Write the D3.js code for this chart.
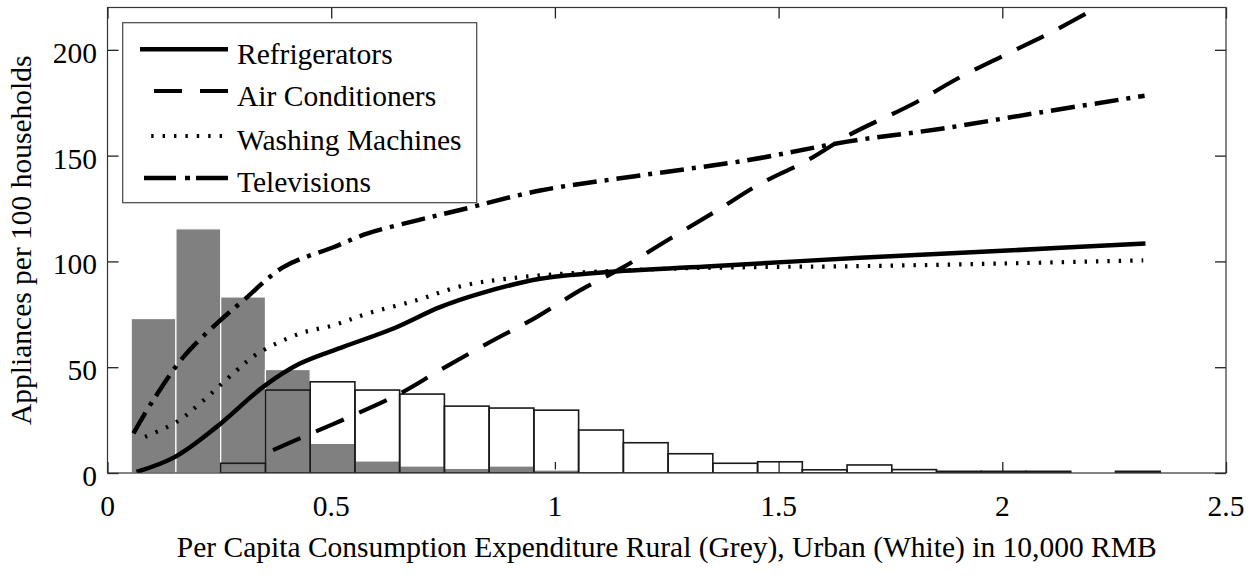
<!DOCTYPE html>
<html>
<head>
<meta charset="utf-8">
<script src="https://cdn.jsdelivr.net/npm/d3@7"></script>
<style>
  html, body { margin: 0; padding: 0; background: #fff; }
  svg { display: block; }
  text { font-family: "Liberation Serif", "Times New Roman", serif; fill: #000; }
</style>
</head>
<body>
<svg id="chart" width="1257" height="576"></svg>
<script>
// ---------------- data ----------------
const binCenters = [0.103, 0.203, 0.303, 0.403, 0.503, 0.603, 0.703, 0.803, 0.903, 1.003,
                    1.103, 1.203, 1.303, 1.403, 1.503, 1.603, 1.703, 1.803, 1.903, 2.003,
                    2.103, 2.203, 2.303];
const binWidth = 0.1;
const ruralCounts = [73, 115.4, 83.2, 48.9, 14, 5.7, 3.3, 2.2, 3.3, 1.4,
                     0, 0, 0, 0, 0, 0, 0, 0, 0, 0, 0, 0, 0];
const urbanCounts = [0, 0, 4.6, 39.2, 43.1, 39.2, 37.3, 31.6, 30.7, 29.7,
                     20.3, 14.3, 9.1, 4.6, 5.3, 1.5, 3.8, 1.6, 0.8, 0.8, 0.8, 0, 0.8];

const refrigX = [0.065, 0.15, 0.244, 0.348, 0.43, 0.527, 0.639, 0.743, 0.832, 0.967, 1.116, 1.339, 1.682, 2.0, 2.32];
const refrigY = [0.5, 7.5, 21.8, 40.7, 51.7, 59.6, 68.3, 78.4, 84.8, 91.8, 95, 97.6, 101.7, 105, 108.5];

const acX = [0.37, 0.43, 0.542, 0.654, 0.743, 0.855, 0.959, 1.056, 1.153, 1.257, 1.362, 1.458, 1.563, 1.66, 1.8, 1.905, 2.01, 2.107, 2.22];
const acY = [10.8, 16.4, 26.6, 37.6, 48.6, 61.9, 73.7, 86.3, 97.3, 110.7, 124, 136.6, 147.6, 160, 174.4, 187, 198, 208, 221];

const washX = [0.084, 0.155, 0.207, 0.285, 0.333, 0.43, 0.505, 0.58, 0.69, 0.788, 0.892, 1.041, 1.265, 1.488, 1.66, 2.0, 2.315];
const washY = [17.1, 24.2, 32.9, 47.8, 56.1, 65.9, 69.8, 75.3, 81.6, 88.2, 91.8, 94.5, 96.6, 97.4, 97.7, 99, 100.5];

const tvX = [0.058, 0.102, 0.17, 0.244, 0.304, 0.393, 0.505, 0.58, 0.69, 0.788, 0.967, 1.19, 1.436, 1.65, 1.86, 2.084, 2.318];
const tvY = [18.7, 34.4, 54.9, 70.6, 81.6, 97.3, 106.7, 113.1, 119.3, 124.3, 133.5, 140.6, 148, 156.5, 162.6, 170.4, 178.3];

const seriesNames = ["Refrigerators", "Air Conditioners", "Washing Machines", "Televisions"];
const xTicks = [0, 0.5, 1, 1.5, 2, 2.5];
const xTickLabels = ["0", "0.5", "1", "1.5", "2", "2.5"];
const yTicks = [0, 50, 100, 150, 200];
const yTickLabels = ["0", "50", "100", "150", "200"];
const xTitle = "Per Capita Consumption Expenditure Rural (Grey), Urban (White) in 10,000 RMB";
const yTitle = "Appliances per 100 households";

// ---------------- layout ----------------
const L = 107.5, R = 1226, T = 7.5, B = 473;
const FS = 29.5;
const svg = d3.select("#chart");
const x = d3.scaleLinear().domain([0, 2.5]).range([L, R]);
const y = d3.scaleLinear().domain([0, 220]).range([B, T]);

svg.append("defs").append("clipPath").attr("id", "plotclip")
  .append("rect").attr("x", L).attr("y", T).attr("width", R - L).attr("height", B - T);

// ticks (bottom layer, inward)
const tickLen = 11;
const axB = svg.append("g").attr("transform", `translate(0,${B})`)
  .call(d3.axisTop(x).tickValues(xTicks).tickSize(tickLen).tickFormat(""));
const axT = svg.append("g").attr("transform", `translate(0,${T})`)
  .call(d3.axisBottom(x).tickValues(xTicks).tickSize(tickLen).tickFormat(""));
const axL = svg.append("g").attr("transform", `translate(${L},0)`)
  .call(d3.axisRight(y).tickValues(yTicks).tickSize(tickLen).tickFormat(""));
const axR = svg.append("g").attr("transform", `translate(${R},0)`)
  .call(d3.axisLeft(y).tickValues(yTicks).tickSize(tickLen).tickFormat(""));
[axB, axT, axL, axR].forEach(g => {
  g.select(".domain").remove();
  g.selectAll("line").attr("stroke", "#222").attr("stroke-width", 1.3);
});

// tick labels
svg.append("g").selectAll("text").data(xTicks).join("text")
  .attr("x", d => x(d)).attr("y", 516)
  .attr("text-anchor", "middle").attr("font-size", FS)
  .text((d, i) => xTickLabels[i]);
svg.append("g").selectAll("text").data(yTicks).join("text")
  .attr("x", 97).attr("y", d => y(d) + 13)
  .attr("text-anchor", "end").attr("font-size", FS)
  .text((d, i) => yTickLabels[i]);

// titles
svg.append("text").attr("x", (L + R) / 2).attr("y", 557)
  .attr("text-anchor", "middle").attr("font-size", FS).text(xTitle);
svg.append("text").attr("transform", `translate(31,${(T + B) / 2}) rotate(-90)`)
  .attr("text-anchor", "middle").attr("font-size", FS).text(yTitle);

// bars
const bins = binCenters.map((c, i) => ({ c, rural: ruralCounts[i], urban: urbanCounts[i] }));
const plot = svg.append("g").attr("clip-path", "url(#plotclip)");
plot.append("g").selectAll("rect").data(bins.filter(d => d.rural > 0)).join("rect")
  .attr("x", d => x(d.c - binWidth / 2)).attr("width", d => x(d.c + binWidth / 2) - x(d.c - binWidth / 2))
  .attr("y", d => y(d.rural)).attr("height", d => B - y(d.rural))
  .attr("fill", "#808080").attr("stroke", "#fff").attr("stroke-width", 1.2);
plot.append("g").selectAll("rect").data(bins.filter(d => d.urban > 0)).join("rect")
  .attr("x", d => x(d.c - binWidth / 2)).attr("width", d => x(d.c + binWidth / 2) - x(d.c - binWidth / 2))
  .attr("y", d => y(d.urban)).attr("height", d => B - y(d.urban))
  .attr("fill", "none").attr("stroke", "#1a1a1a").attr("stroke-width", 1.6);

// lines
const styles = [
  { xs: refrigX, ys: refrigY, dash: null, w: 4.5 },
  { xs: acX, ys: acY, dash: "30,17", w: 4.2 },
  { xs: washX, ys: washY, dash: "2.4,9", w: 4.2 },
  { xs: tvX, ys: tvY, dash: "24,8,4,8", w: 4.5 }
];
const line = d3.line().x(d => x(d[0])).y(d => y(d[1])).curve(d3.curveCatmullRom.alpha(0.5));
styles.forEach(s => {
  const pts = s.xs.map((v, i) => [v, s.ys[i]]);
  plot.append("path").datum(pts).attr("d", line)
    .attr("fill", "none").attr("stroke", "#000").attr("stroke-width", s.w)
    .attr("stroke-dasharray", s.dash).attr("stroke-linecap", "butt").attr("stroke-linejoin", "round");
});

// frame
svg.append("rect").attr("x", L).attr("y", T).attr("width", R - L).attr("height", B - T)
  .attr("fill", "none").attr("stroke", "#333").attr("stroke-width", 1.2);

// legend
const lg = svg.append("g");
lg.append("rect").attr("x", 122.7).attr("y", 22.7).attr("width", 354).attr("height", 180)
  .attr("fill", "#fff").attr("stroke", "#444").attr("stroke-width", 1.2);
const legRows = [49.3, 91, 136, 178];
const legBase = [64.3, 105.5, 150, 192];
seriesNames.forEach((name, i) => {
  const s = styles[i];
  const x1 = i === 2 ? 148 : 140, x2 = i === 2 ? 222 : 228;
  lg.append("line").attr("x1", x2).attr("x2", x1).attr("y1", legRows[i]).attr("y2", legRows[i])
    .attr("stroke", "#000").attr("stroke-width", s.w)
    .attr("stroke-dasharray", i === 1 ? "28,18" : (i === 3 ? "32,6,5,9" : s.dash));
  lg.append("text").attr("x", 237).attr("y", legBase[i]).attr("font-size", FS).text(name);
});
</script>
</body>
</html>
